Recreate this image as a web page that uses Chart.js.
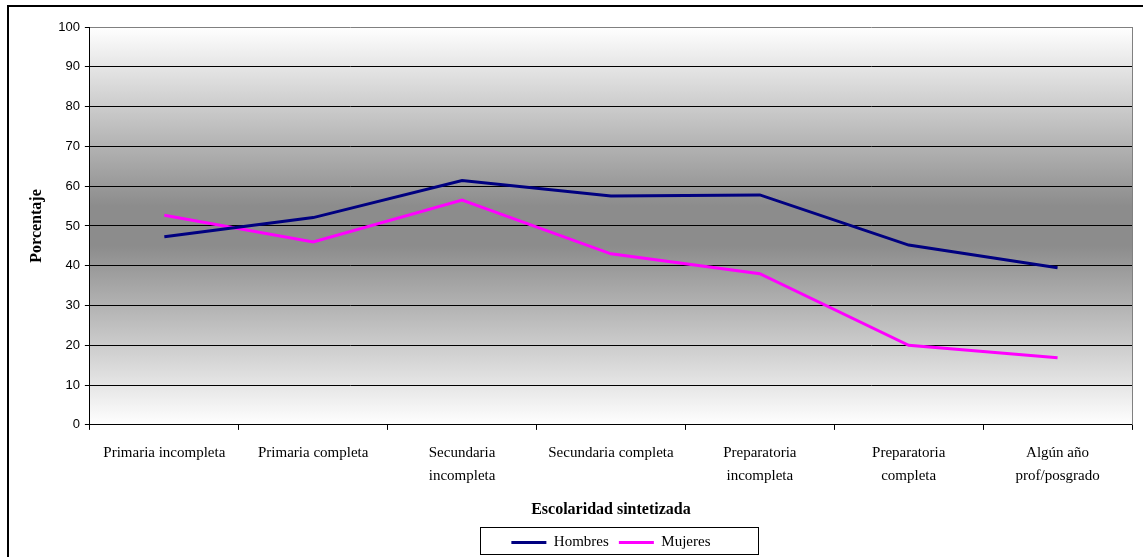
<!DOCTYPE html>
<html>
<head>
<meta charset="utf-8">
<script src="https://cdn.jsdelivr.net/npm/chart.js@4.4.1/dist/chart.umd.min.js"></script>
<style>
  body { margin: 0; background: #fff; }
  canvas { display: block; }
</style>
</head>
<body>
<canvas id="chart" width="1143" height="557"></canvas>
<script>
const categories = [
    'Primaria incompleta',
    'Primaria completa',
    ['Secundaria', 'incompleta'],
    'Secundaria completa',
    ['Preparatoria', 'incompleta'],
    ['Preparatoria', 'completa'],
    ['Algún año', 'prof/posgrado']
];
const hombres = [47.3, 52.1, 61.4, 57.5, 57.8, 45.2, 39.5];
const mujeres = [52.7, 46.0, 56.5, 43.0, 38.0, 20.0, 16.9];
const yTicks = [0, 10, 20, 30, 40, 50, 60, 70, 80, 90, 100];

const serif = "'Liberation Serif', 'Times New Roman', serif";
const sans = "'Liberation Sans', Arial, sans-serif";

// gray gradient behind the plot, outer frame, legend box
const decor = {
    id: 'decor',
    beforeDraw(chart) {
        const ctx = chart.ctx;
        const a = chart.chartArea;
        ctx.save();
        const g = ctx.createLinearGradient(0, a.top, 0, a.bottom);
        g.addColorStop(0, '#ffffff');
        g.addColorStop(0.45, '#8c8c8c');
        g.addColorStop(0.55, '#8c8c8c');
        g.addColorStop(1, '#ffffff');
        ctx.fillStyle = g;
        ctx.fillRect(a.left, a.top, a.right - a.left, a.bottom - a.top);
        ctx.strokeStyle = '#000';
        ctx.lineWidth = 2;
        ctx.strokeRect(8, 6, 1200, 600);
        ctx.restore();
    },
    afterDraw(chart) {
        const ctx = chart.ctx;
        const a = chart.chartArea;
        ctx.save();
        ctx.strokeStyle = '#808080';
        ctx.lineWidth = 1;
        ctx.beginPath();
        ctx.moveTo(Math.round(a.right) + 0.5, a.top);
        ctx.lineTo(Math.round(a.right) + 0.5, a.bottom);
        ctx.stroke();

        // box around the legend, a bit wider than its items
        const boxes = chart.legend.legendHitBoxes;
        if (boxes.length) {
            const minL = Math.min(...boxes.map(b => b.left));
            const maxR = Math.max(...boxes.map(b => b.left + b.width));
            const mid = (minL + maxR) / 2 + 8;
            const top = Math.min(...boxes.map(b => b.top)) - 8;
            const bottom = Math.max(...boxes.map(b => b.top + b.height)) + 4;
            ctx.strokeStyle = '#000';
            ctx.strokeRect(Math.round(mid - 139) + 0.5, Math.round(top) + 0.5, 278, Math.round(bottom - top));
        }
        ctx.restore();
    }
};

new Chart(document.getElementById('chart'), {
    type: 'line',
    data: {
        labels: categories,
        datasets: [{
            label: 'Hombres',
            data: hombres,
            borderColor: '#000080',
            backgroundColor: '#000080',
            borderWidth: 3,
            pointRadius: 0,
            tension: 0
        }, {
            label: 'Mujeres',
            data: mujeres,
            borderColor: '#ff00ff',
            backgroundColor: '#ff00ff',
            borderWidth: 3,
            pointRadius: 0,
            tension: 0
        }]
    },
    options: {
        responsive: false,
        animation: false,
        layout: { padding: { left: 17, top: 27, right: 11, bottom: -3 } },
        plugins: {
            tooltip: { enabled: false },
            legend: {
                position: 'bottom',
                fullSize: false,
                labels: {
                    usePointStyle: true,
                    pointStyle: 'line',
                    pointStyleWidth: 35,
                    color: '#000',
                    padding: 10,
                    font: { family: serif, size: 15 }
                }
            }
        },
        scales: {
            x: {
                offset: true,
                grid: {
                    offset: true,
                    drawOnChartArea: false,
                    drawTicks: true,
                    tickLength: 5,
                    tickColor: '#000'
                },
                border: { color: '#000', width: 1 },
                ticks: {
                    color: '#000',
                    padding: 12,
                    maxRotation: 0,
                    autoSkip: false,
                    font: { family: serif, size: 15, lineHeight: 1.53 }
                },
                title: {
                    display: true,
                    text: 'Escolaridad sintetizada',
                    color: '#000',
                    padding: { top: 0, bottom: 6 },
                    font: { family: serif, size: 16, weight: 'bold' }
                }
            },
            y: {
                min: 0,
                max: 100,
                afterBuildTicks: scale => {
                    scale.ticks = yTicks.map(v => ({ value: v }));
                },
                grid: {
                    color: ctx => ctx.tick && ctx.tick.value === 100 ? '#808080' : '#000',
                    tickColor: '#000',
                    tickLength: 5,
                    lineWidth: 1
                },
                border: { color: '#000', width: 1 },
                ticks: {
                    color: '#000',
                    padding: 5,
                    font: { family: sans, size: 13 }
                },
                title: {
                    display: true,
                    text: 'Porcentaje',
                    color: '#000',
                    padding: { top: 10, bottom: 7 },
                    font: { family: serif, size: 16, weight: 'bold' }
                }
            }
        }
    },
    plugins: [decor]
});
</script>
</body>
</html>
